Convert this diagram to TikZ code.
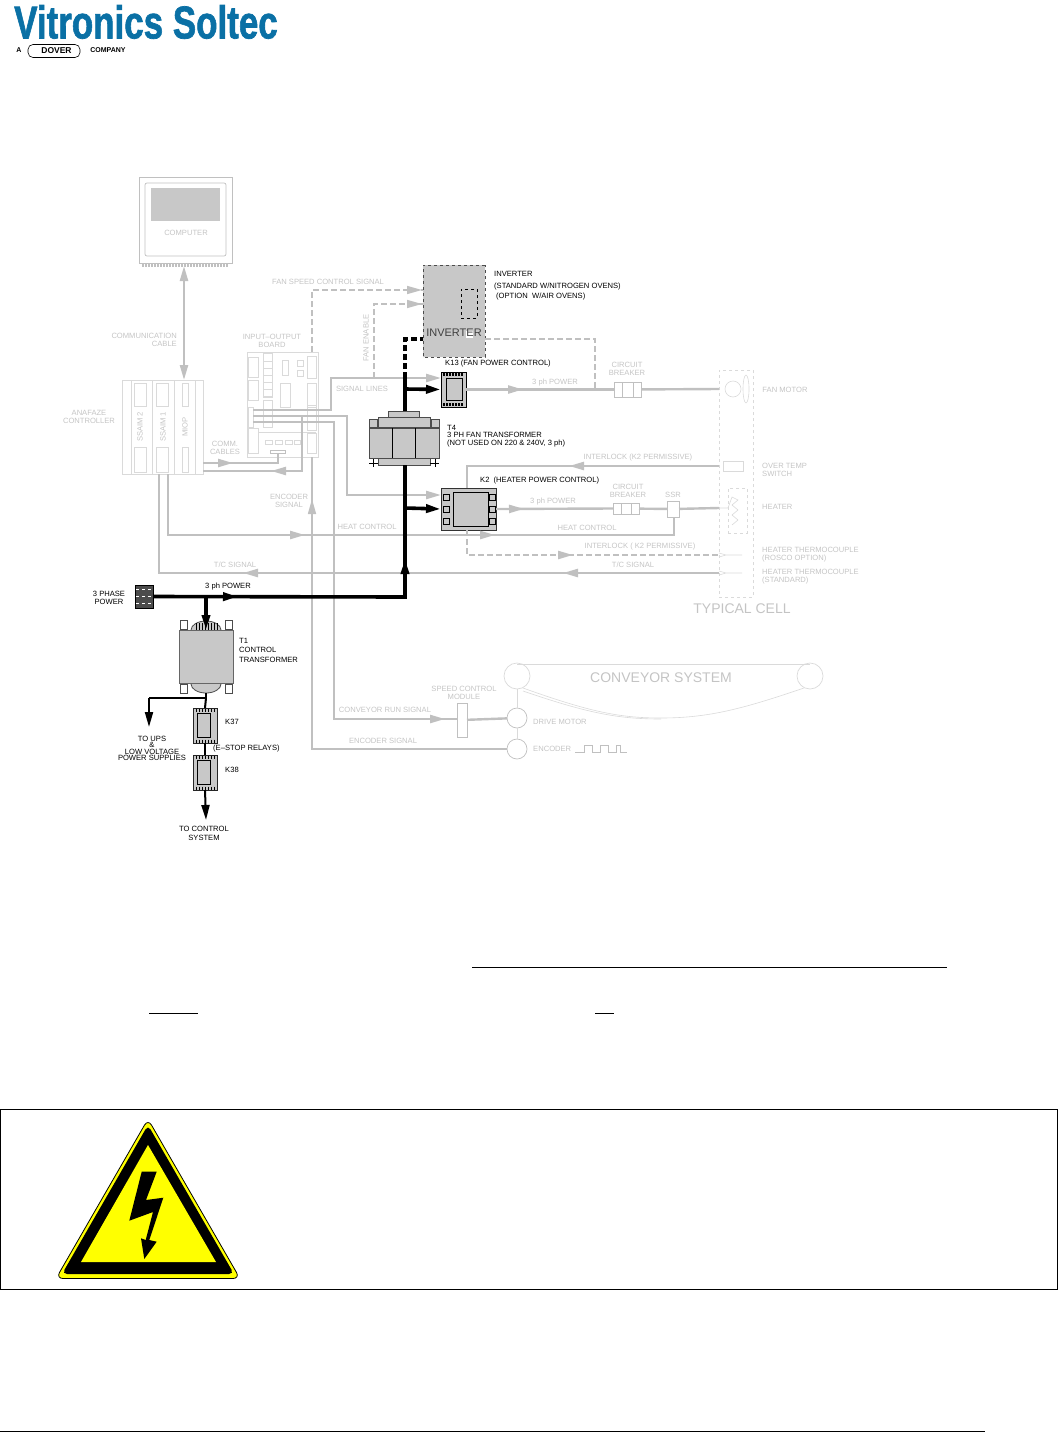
\documentclass[tikz,border=0pt]{standalone}
\usepackage{graphicx}
\usepackage{fontspec}
\setmainfont{Liberation Sans}
\newfontfamily\logofont[BoldFeatures={FakeBold=1.6}]{Liberation Sans}
\usepackage{tikz}
\usetikzlibrary{arrows.meta, decorations.markings, shapes.geometric, shapes.misc}
\definecolor{lineGray}{RGB}{192, 192, 192}
\definecolor{paleGray}{RGB}{218, 218, 218}
\definecolor{fillGray}{RGB}{200, 200, 200}
\definecolor{textGray}{RGB}{196, 196, 196}
\definecolor{logoBlue}{RGB}{10, 112, 165}
\definecolor{signYellow}{RGB}{255, 255, 0}
\tikzset{sigtip/.tip={Stealth[length=15pt, width=8pt, inset=0pt]}}
\tikzset{heavytip/.tip={Stealth[length=15pt, width=8pt, inset=0pt]}}

\begin{document}
\begin{tikzpicture}[
    x=1pt, y=-1pt,
    size/.style 2 args={minimum width=#1pt, minimum height=#2pt},
    panel/.style={draw=paleGray, line width=0.7pt, inner sep=0pt, outer sep=0pt},
    part/.style={draw=black!70, fill=fillGray, line width=0.7pt, inner sep=0pt, outer sep=0pt},
    paleline/.style={draw=paleGray, line width=0.6pt},
    grayline/.style={draw=lineGray, line width=2.4pt},
    thinline/.style={draw=lineGray, line width=1.3pt},
    graydash/.style={draw=lineGray, line width=2.4pt, dash pattern=on 6pt off 3pt},
    thindash/.style={draw=lineGray, line width=1.5pt, dash pattern=on 6pt off 3pt},
    heavy/.style={draw=black, line width=3.6pt},
    heavydash/.style={draw=black, line width=3.6pt, dash pattern=on 6pt off 3pt},
    slim/.style={draw=black, line width=2pt},
    midtip/.style={postaction={decorate}, decoration={markings, mark=at position #1 with {\arrow{sigtip}}}},
    midtips/.style 2 args={postaction={decorate}, decoration={markings, mark=at position #1 with {\arrow{sigtip}}, mark=at position #2 with {\arrow{sigtip}}}},
    lbl/.style={font=\fontsize{7.6}{8}\selectfont, text=textGray, align=center, inner sep=0pt},
    lblb/.style={font=\fontsize{7.6}{8}\selectfont, text=black, align=center, inner sep=0pt},
    rule/.style={draw=black, line width=0.8pt}
]
\useasboundingbox (0,0) rectangle (1058,1432);

% Logo
\node[anchor=west, inner sep=0pt, text=logoBlue, font=\logofont\bfseries\fontsize{46}{46}\selectfont] (logo) at (14,22) {\scalebox{0.76}[1]{Vitronics Soltec}};
\node[inner sep=0pt, font=\bfseries\fontsize{7}{8}\selectfont] (logoa) at (19,50) {A};
\node[draw=black, line width=0.6pt, rounded corners=5pt, minimum width=52pt, minimum height=13pt, inner sep=0pt, font=\bfseries\fontsize{8.5}{9}\selectfont] (dover) at (54,51) {\hspace{5pt}DOVER};
\node[inner sep=0pt, font=\bfseries\fontsize{7}{8}\selectfont] (logoco) at (108,50) {COMPANY};

% Computer
\node[panel, draw=lineGray, size={93}{86}] (computer) at (185.5,220) {};
\node[panel, draw=lineGray, rounded corners=2pt, size={81}{73}] (bezel) at (185.5,219.5) {};
\node[inner sep=0pt, fill=fillGray, size={69}{33}] (screen) at (185.5,204.5) {};
\node[lbl] (computertxt) at (186,233) {COMPUTER};
\foreach \x in {142,145,...,228}
    \draw[thinline, line width=0.6pt] (\x,263) -- ++(0,3) -- ++(1.5,0) -- ++(0,-3);

% Anafaze controller
\node[panel, size={81}{94}] (anafaze) at (162.5,427) {};
\foreach \x in {131,152,174,195}
    \draw[paleline] (\x,380) -- (\x,474);
\foreach \xa/\xb in {134/146,156/168,182/188} {
    \draw[paleline] (\xa,383) rectangle (\xb,406);
    \draw[paleline] (\xa,447) rectangle (\xb,472);
}
\node[lbl, rotate=90] (ssaimtwo) at (140,427) {SSAIM 2};
\node[lbl, rotate=90] (ssaimone) at (163,427) {SSAIM 1};
\node[lbl, rotate=90] (miop) at (185,427) {MIOP};
\node[lbl] (anafazetxt) at (89,417) {ANAFAZE\\CONTROLLER};

% Input-output board
\node[panel, size={71}{105}] (ioboard) at (282.5,404.5) {};
\foreach \xa/\ya/\xb/\yb in {248/357/258/377, 248/380/258/400, 248/407/253/427, 248/428/258/453,
    263/353/272/397, 263/400/272/427, 282/360/288/375, 280/383/290/407, 297/360/303/366, 297/370/303/376,
    307/356/316/378, 307/383/316/407, 307/405/316/430, 307/433/316/453, 265/440/272/444, 275/440/282/444, 285/440/292/444, 294/440/300/444}
    \draw[paleline] (\xa,\ya) rectangle (\xb,\yb);
\foreach \y in {361,368,...,396}
    \draw[paleline] (263,\y) -- (272,\y);
\draw[paleline] (258,432) -- (316,432);
\node[panel, draw=lineGray, size={15}{3}] (iosocket) at (277.5,451.5) {};
\node[lbl] (ioboardtxt) at (272,340.5) {INPUT--OUTPUT\\BOARD};

% Inverter
\node[part, dashed, chamfered rectangle, chamfered rectangle xsep=12pt, chamfered rectangle ysep=12pt, size={62}{92}] (inverter) at (454,311) {};
\node[draw=black, dashed, line width=0.6pt, size={16}{29}, inner sep=0pt] (invslot) at (469,303.5) {};
\node[fill=white, inner sep=0pt, size={7}{7}] (invpatch) at (469,334) {};
\node[inner sep=0pt, text=black!75, font=\fontsize{11}{12}\selectfont] (invertertxt) at (454,333) {INVERTER};
\node[lblb, anchor=west, align=left] (invnote) at (494,286) {INVERTER\\[3.5pt](STANDARD W/NITROGEN OVENS)\\[2.5pt]\hspace{2pt}(OPTION\ \ W/AIR OVENS)};

% T4 transformer
\node[part, size={31}{6}] (tfourcap) at (403.5,414) {};
\node[part, size={52}{10}] (tfourbar) at (404,422) {};
\node[part, size={8}{8}] (tfourl) at (373,423) {};
\node[part, size={8}{8}] (tfourr) at (435,423) {};
\node[part, size={70}{30}] (tfour) at (404,443) {};
\draw[black, line width=1pt] (392,428) -- (392,458) (415,428) -- (415,458);
\node[part, size={52}{7}] (tfourbase) at (404,461.5) {};
\draw[black, line width=0.7pt] (369,463) -- (378,463) (373,459) -- (373,467) (430,463) -- (439,463) (435,459) -- (435,467);
\node[lblb, anchor=west, align=left] (tfourtxt) at (447,436) {T4\\[-0.5pt]3 PH FAN TRANSFORMER\\[-0.5pt](NOT USED ON 220 \& 240V, 3 ph)};

% K13 and K2
\node[part, draw=black, line width=1pt, size={25}{35}] (kthirteen) at (453.5,389.5) {};
\node[panel, draw=black, fill=fillGray, size={16}{22}] (kthirteenin) at (454,389) {};
\foreach \x in {444,447,...,463} {
    \draw[black, line width=1.2pt] (\x,373) -- ++(0,3);
    \draw[black, line width=1.2pt] (\x,403) -- ++(0,3);
}
\node[lblb, anchor=west] (kthirteentxt) at (445,364) {K13 (FAN POWER CONTROL)};
\node[part, draw=black!80, line width=0.8pt, size={55}{42}] (ktwo) at (468.5,509) {};
\node[panel, draw=black, fill=fillGray, size={35}{34}] (ktwoin) at (470.5,509) {};
\foreach \x in {443,489}
    \foreach \y in {494,506,518}
        \draw[black, line width=0.8pt] (\x,\y) rectangle ++(6,6);
\node[lblb, anchor=west] (ktwotxt) at (480,481) {K2\ \ (HEATER POWER CONTROL)};

% Circuit breakers and SSR
\node[panel, draw=lineGray, size={27}{15}] (cbfan) at (627.5,389.5) {};
\draw[lineGray, line width=0.7pt] (622,382) -- (622,397) (633,382) -- (633,397);
\node[lbl] (cbfantxt) at (627,369) {CIRCUIT\\BREAKER};
\node[panel, draw=lineGray, size={26}{11}] (cbheat) at (626,508.5) {};
\draw[lineGray, line width=0.7pt] (621,503) -- (621,514) (631,503) -- (631,514);
\node[lbl] (cbheattxt) at (628,490.5) {CIRCUIT\\BREAKER};
\node[panel, draw=lineGray, size={12}{16}] (ssr) at (673,509) {};
\node[lbl] (ssrtxt) at (673,495) {SSR};

% Typical cell
\node[panel, dashed, size={34}{227}] (cell) at (736,483.5) {};
\node[lbl, font=\fontsize{14}{15}\selectfont] (celltxt) at (742,609) {TYPICAL CELL};
\draw[paleline] (733,389) circle (8);
\draw[paleline] (746,389) ellipse (3 and 14);
\node[lbl] (fantxt) at (785,390) {FAN MOTOR};
\node[lbl, anchor=west, align=left] (switchtxt) at (762,470) {OVER TEMP\\SWITCH};
\node[panel, size={20}{10}] (switch) at (733,466) {};
\node[lbl, anchor=west] (heatertxt) at (762,507) {HEATER};
\node[panel, dashed, size={19}{45}] (heater) at (737.5,510.5) {};
\draw[paleline] (719,508) -- (728,508) -- (732,497) -- (738,500) -- (732,505) -- (738,510) -- (732,515) -- (738,520) -- (732,525);
\draw[paleline] (719,553) -- (726,555) -- (742,555) (719,557) -- (726,555);
\draw[paleline] (719,571) -- (726,573) -- (742,573) (719,575) -- (726,573);
\node[lbl, anchor=west, align=left] (thermoatxt) at (762,554.5) {HEATER THERMOCOUPLE\\(ROSCO OPTION)};
\node[lbl, anchor=west, align=left] (thermobtxt) at (762,577) {HEATER THERMOCOUPLE\\(STANDARD)};

% Conveyor
\draw[paleline] (517,664) -- (810,664);
\draw[paleline] (523,688) .. controls (590,712) and (620,718) .. (661,718) .. controls (710,718) and (745,708) .. (804,688);
\draw[paleline] (523,691) .. controls (590,714) and (620,719) .. (661,719);
\node[circle, panel, minimum size=26pt] (pulleyl) at (517,676) {};
\node[circle, panel, minimum size=26pt] (pulleyr) at (810,676) {};
\node[lbl, font=\fontsize{14}{15}\selectfont] (conveyortxt) at (661,678) {CONVEYOR SYSTEM};
\node[circle, panel, draw=lineGray, minimum size=20pt] (drivemotor) at (517,718) {};
\node[circle, panel, draw=lineGray, minimum size=20pt] (encoder) at (517,749) {};
\draw[paleline] (pulleyl) -- (drivemotor) -- (encoder);
\node[lbl, anchor=west] (drivetxt) at (533,722) {DRIVE MOTOR};
\node[lbl, anchor=west] (encodertxt) at (533,749) {ENCODER};
\draw[lineGray, line width=0.7pt] (575,752) -- (584,752) -- (584,745) -- (592,745) -- (592,752) -- (600,752) -- (600,745) -- (608,745) -- (608,752) -- (616,752) -- (616,745) -- (620,745) -- (620,752) -- (627,752);
\node[panel, draw=lineGray, size={10}{34}] (speedmod) at (462,720) {};
\node[lbl] (speedtxt) at (464,692.5) {SPEED CONTROL\\MODULE};

% Free ends of the connectors
\coordinate (compbot) at (184,266);
\coordinate (anatop) at (184,380);
\coordinate (boarda) at (253,410);
\coordinate (boardb) at (253,416);
\coordinate (boardc) at (253,422);
\coordinate (turna) at (331,378);
\coordinate (kthirteenw) at (441,378);
\coordinate (turnb) at (347,495);
\coordinate (ktwow) at (441,495);
\coordinate (turnc) at (334,719);
\coordinate (speedw) at (457,719);
\coordinate (commstart) at (203,463);
\coordinate (commturn) at (278,463);
\coordinate (commback) at (203,471);
\coordinate (commup) at (302,417);
\coordinate (fanstart) at (312,352);
\coordinate (fanturn) at (312,290);
\coordinate (invfan) at (423,290);
\coordinate (enstart) at (374,378);
\coordinate (enturn) at (374,304);
\coordinate (inven) at (423,304);
\coordinate (encw) at (507,749);
\coordinate (encturn) at (312,749);
\coordinate (encup) at (312,457);
\coordinate (heatstart) at (168,474);
\coordinate (heatturn) at (168,535);
\coordinate (ssrturn) at (674,535);
\coordinate (ssrbot) at (674,517);
\coordinate (tccell) at (719,573);
\coordinate (tcturn) at (159,573);
\coordinate (anabot) at (159,474);
\coordinate (intcell) at (719,466);
\coordinate (intturn) at (467,466);
\coordinate (ktwon) at (467,488);
\coordinate (ktwos) at (467,530);
\coordinate (dashturn) at (467,555);
\coordinate (dashcell) at (719,555);
\coordinate (invcorner) at (595,339);
\coordinate (inve) at (485,339);
\coordinate (fanline) at (595,389);
\coordinate (cellfan) at (719,389);
\coordinate (cellheat) at (719,508);

% Gray connectors
\draw[grayline, sigtip-sigtip] (compbot) -- (anatop);
\draw[grayline, -sigtip] (boarda) -| (turna) -- (kthirteenw);
\draw[grayline, -sigtip] (boardb) -| (turnb) -- (ktwow);
\draw[grayline, midtip=-12pt] (boardc) -| (turnc) -- (speedw);
\draw[grayline, midtip=30pt] (commstart) -- (commturn) -- (iosocket.south -| commturn);
\draw[grayline, midtip=85pt] (commup) |- (commback);
\draw[thindash, midtip=-1pt] (fanstart) -- (fanturn) -- (invfan);
\draw[thindash, midtip=-1pt] (enstart) -- (enturn) -- (inven);
\draw[thinline, line width=1.5pt, midtip=-42pt] (encw) -- (encturn) -- (encup);
\draw[grayline, midtips={198pt}{388pt}] (heatstart) -- (heatturn) -- (ssrturn) -- (ssrbot);
\draw[grayline, midtips={156pt}{476pt}] (tccell) -- (tcturn) -- (anabot);
\draw[grayline, midtip=150pt] (intcell) -- (intturn) -- (ktwon);
\draw[grayline, midtip=57pt] (kthirteen.east) -- (cbfan.west);
\draw[grayline] (cbfan) -- (cellfan);
\draw[graydash] (inve) -- (invcorner) -- (fanline);
\draw[grayline, midtip=28pt] (ktwo.east) -- (cbheat.west);
\draw[grayline] (cbheat) -- (ssr);
\draw[grayline] (ssr) -- (cellheat);
\draw[graydash, midtip=-146pt] (ktwos) -- (dashturn) -- (dashcell);
\draw[grayline] (speedmod) -- (drivemotor);

% Gray labels
\node[lbl, align=right, anchor=east] (commtxt) at (177,340) {COMMUNICATION\\CABLE};
\node[lbl] (commcabtxt) at (225,448) {COMM.\\CABLES};
\node[lbl] (fansptxt) at (328,282) {FAN SPEED CONTROL SIGNAL};
\node[lbl, rotate=90] (fanentxt) at (366,338) {FAN ENABLE};
\node[lbl] (signaltxt) at (362,389) {SIGNAL LINES};
\node[lbl] (encsigtxt) at (289,501) {ENCODER\\SIGNAL};
\node[lbl] (heatatxt) at (367,527) {HEAT CONTROL};
\node[lbl] (heatbtxt) at (587,528) {HEAT CONTROL};
\node[lbl] (tcatxt) at (235,565) {T/C SIGNAL};
\node[lbl] (tcbtxt) at (633,565) {T/C SIGNAL};
\node[lbl] (powatxt) at (555,383) {3 ph POWER};
\node[lbl] (powbtxt) at (553,502) {3 ph POWER};
\node[lbl] (intatxt) at (638,458) {INTERLOCK (K2 PERMISSIVE)};
\node[lbl] (intbtxt) at (640,547) {INTERLOCK ( K2 PERMISSIVE)};
\node[lbl] (runtxt) at (385,710) {CONVEYOR RUN SIGNAL};
\node[lbl] (enctxt) at (383,741) {ENCODER SIGNAL};

% 3 phase power and T1
\node[part, fill=black!70, draw=black, size={18}{23}] (terminal) at (144,596.5) {};
\foreach \y in {589,596,603}
    \draw[white, line width=1pt, dashed] (136,\y) -- (152,\y);
\node[lblb] (phasetxt) at (109,597.5) {3 PHASE\\POWER};
\node[lblb] (powtxt) at (228,586.5) {3 ph POWER};
\foreach \ya/\yb in {620/629,684/693} {
    \draw[black!70, fill=white, line width=0.8pt] (180,\ya) rectangle (187,\yb);
    \draw[black!70, fill=white, line width=0.8pt] (225,\ya) rectangle (232,\yb);
}
\draw[black!70, fill=fillGray, line width=0.8pt] (206,630) ellipse (15 and 9);
\draw[black!70, fill=fillGray, line width=0.8pt] (206,684) ellipse (15 and 9);
\foreach \x in {196,199,...,217}
    \draw[black, line width=0.8pt] (\x,623) -- (\x,630);
\node[part, draw=black!60, size={54}{53}] (tone) at (206,656.5) {};
\node[lblb, anchor=west, align=left] (tonetxt) at (239,650) {T1\\[1.5pt]CONTROL\\[1.5pt]TRANSFORMER};
\foreach \rel/\ypos in {kthirtyseven/725.5,kthirtyeight/772.5} {
    \node[part, draw=black!85, line width=1pt, size={24}{35}] (\rel) at (205,\ypos) {};
    \node[panel, draw=black, fill=fillGray, size={13}{24}] (\rel in) at (204,\ypos) {};
    \foreach \x in {196,199,...,214} {
        \draw[black, line width=1pt] (\x,\ypos-17) -- ++(0,3);
        \draw[black, line width=1pt] (\x,\ypos+14) -- ++(0,3);
    }
}
\node[lblb] (kthirtysevtxt) at (232,722) {K37};
\node[lblb] (kthirtyeitxt) at (232,770) {K38};
\node[lblb, anchor=west] (estoptxt) at (213,749) {(E--STOP RELAYS)};
\node[lblb] (upstxt) at (152,748.5) {TO UPS\\[-1.5pt]\&\\[-1.5pt]LOW VOLTAGE\\[-1.5pt]POWER SUPPLIES};
\node[lblb] (ctrltxt) at (204,833) {TO CONTROL\\[1pt]SYSTEM};

% Black power connectors
\coordinate (mainturn) at (405,597);
\coordinate (toneinlet) at (206,630);
\coordinate (feed) at (206,597);
\coordinate (toneout) at (206,693);
\coordinate (upsturn) at (206,698);
\coordinate (upsdown) at (149,698);
\coordinate (upsend) at (149,727);
\coordinate (ctrlend) at (206,820);
\coordinate (invtap) at (405,339);
\coordinate (invw) at (423,339);
\coordinate (dashend) at (405,378);
\coordinate (bratap) at (405,389);
\coordinate (brbtap) at (405,508);
\draw[heavy, midtips={85pt}{290pt}] (terminal.east) -- (mainturn) -- (tfourbase.south -| mainturn);
\draw[heavy] (tfourcap.north -| mainturn) -- (dashend);
\draw[heavydash] (dashend) -- (invtap) -- (invw);
\draw[heavy, -heavytip] (bratap) -- (kthirteen.west);
\draw[heavy, -heavytip] (brbtap) -- (ktwo.west);
\draw[heavy, -heavytip] (feed) -- (toneinlet);
\draw[slim] (toneout) -- (upsturn) -- (upsdown);
\draw[slim, -heavytip] (upsdown) -- (upsend);
\draw[slim] (upsturn) -- (kthirtyseven.north);
\draw[slim] (kthirtyseven.south) -- (kthirtyeight.north);
\draw[slim, -heavytip] (kthirtyeight.south) -- (ctrlend);

% Page rules
\coordinate (rulea) at (472,967);
\coordinate (ruleb) at (947,967);
\draw[rule] (rulea) -- (ruleb);
\coordinate (rulec) at (149,1013);
\coordinate (ruled) at (198,1013);
\draw[rule] (rulec) -- (ruled);
\coordinate (rulee) at (595,1013);
\coordinate (rulef) at (614,1013);
\draw[rule] (rulee) -- (rulef);
\coordinate (ruleg) at (0,1431);
\coordinate (ruleh) at (985,1431);
\draw[rule] (ruleg) -- (ruleh);

% Warning box
\node[draw=black, line width=1pt, inner sep=0pt, minimum width=1057pt, minimum height=180pt] (warnbox) at (528.5,1199) {};
\draw[black, fill=signYellow, line width=0.8pt, rounded corners=7pt] (148,1119) -- (240,1278.5) -- (56,1278.5) -- cycle;
\fill[black, rounded corners=5pt] (148,1125) -- (234,1274) -- (62,1274) -- cycle;
\fill[signYellow] (148,1145) -- (216,1262) -- (81,1262) -- cycle;
\fill[black] (141.7,1171.7) -- (156.7,1171.7) -- (146,1200) -- (163.3,1197.7) -- (149.3,1240) -- (156.7,1241.7) -- (144.3,1259) -- (141,1238.3) -- (145.7,1240) -- (153,1212) -- (129.3,1220.7) -- cycle;

\end{tikzpicture}
\end{document}
